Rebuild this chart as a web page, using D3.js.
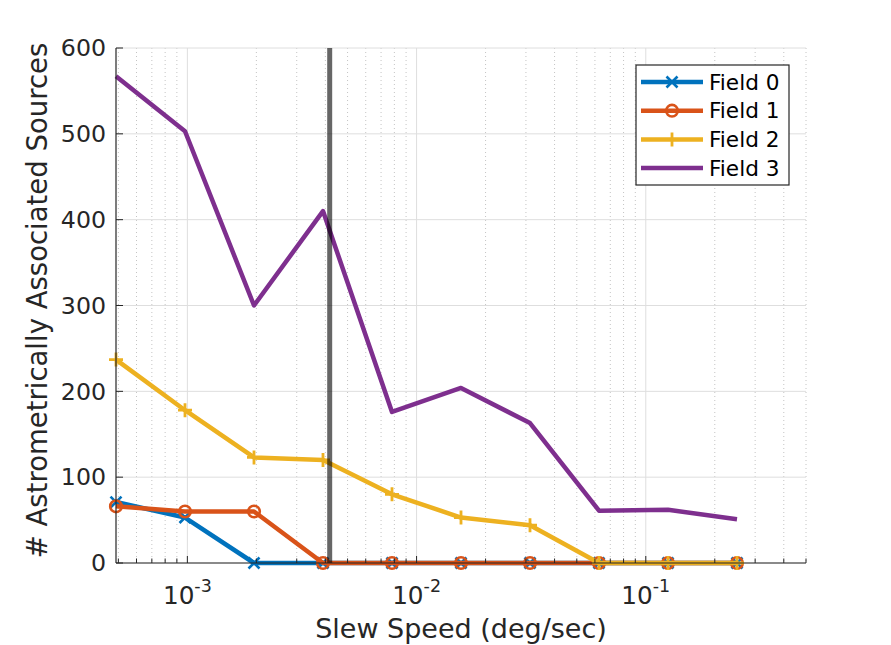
<!DOCTYPE html>
<html>
<head>
<meta charset="utf-8">
<script src="https://cdn.jsdelivr.net/npm/d3@7"></script>
<style>
  body { margin: 0; background: #fff; }
  text { font-family: "DejaVu Sans", sans-serif; fill: #262626; }
</style>
</head>
<body>
<div id="chart"></div>
<script>
// slew speed (deg/sec)
const speeds = [0.00048828125, 0.0009765625, 0.001953125, 0.00390625, 0.0078125,
  0.015625, 0.03125, 0.0625, 0.125, 0.25]

// associated sources per field
const field0 = [71, 53, 0, 0, 0, 0, 0, 0, 0, 0]
const field1 = [66, 60, 60, 0, 0, 0, 0, 0, 0, 0]
const field2 = [237, 178, 123, 120, 80, 53, 44, 0, 0, 0]
const field3 = [567, 503, 300, 410, 176, 204, 163, 61, 62, 51]

const seriesNames = ['Field 0', 'Field 1', 'Field 2', 'Field 3']
const seriesColors = ['#0072BD', '#D95319', '#EDB120', '#7E2F8E']
const seriesMarkers = ['x', 'o', '+', 'none']

const xMajor = [0.001, 0.01, 0.1]
const xMajorExp = ['-3', '-2', '-1']
const xMinor = [0.0005, 0.0006, 0.0007, 0.0008, 0.0009,
  0.002, 0.003, 0.004, 0.005, 0.006, 0.007, 0.008, 0.009,
  0.02, 0.03, 0.04, 0.05, 0.06, 0.07, 0.08, 0.09,
  0.2, 0.3, 0.4, 0.5]
const yTicks = [0, 100, 200, 300, 400, 500, 600]

const siderealRate = 0.004178

const W = 891, H = 645
let margin = { top: 48, right: 85, bottom: 82, left: 116 },
    width = W - margin.left - margin.right,
    height = H - margin.top - margin.bottom

const sx = 'scale(1.03,1)'

let svg = d3.select('#chart').append('svg')
    .attr('width', W)
    .attr('height', H)

let g = svg.append('g')
    .attr('transform', 'translate(' + margin.left + ',' + margin.top + ')')

let x = d3.scaleLog()
    .domain([0.00048828125, 0.5])
    .range([0, width])

let y = d3.scaleLinear()
    .domain([0, 600])
    .range([height, 0])

// grid
g.append('g').selectAll('line')
    .data(xMinor)
    .join('line')
    .attr('x1', d => x(d)).attr('x2', d => x(d))
    .attr('y1', 0).attr('y2', height)
    .attr('stroke', '#c4c4c4')
    .attr('stroke-dasharray', '1,3')

g.append('g').selectAll('line')
    .data(xMajor)
    .join('line')
    .attr('x1', d => x(d)).attr('x2', d => x(d))
    .attr('y1', 0).attr('y2', height)
    .attr('stroke', '#dedede')

g.append('g').selectAll('line')
    .data(yTicks)
    .join('line')
    .attr('x1', 0).attr('x2', width)
    .attr('y1', d => y(d)).attr('y2', d => y(d))
    .attr('stroke', '#dedede')

// series
const allSeries = [field0, field1, field2, field3]
let line = d3.line()
    .x((d, i) => x(speeds[i]))
    .y(d => y(d))

function drawMarker(sel, type, color) {
    if (type === 'x') {
        sel.append('path').attr('d', 'M-5.5,-5.5L5.5,5.5M-5.5,5.5L5.5,-5.5')
            .attr('stroke', color).attr('stroke-width', 2.6).attr('fill', 'none')
    } else if (type === '+') {
        sel.append('path').attr('d', 'M-7,0L7,0M0,-7L0,7')
            .attr('stroke', color).attr('stroke-width', 2.8).attr('fill', 'none')
    } else if (type === 'o') {
        sel.append('circle').attr('r', 5.8)
            .attr('stroke', color).attr('stroke-width', 2.6).attr('fill', 'none')
    }
}

allSeries.forEach((vals, k) => {
    let s = g.append('g')
    s.append('path')
        .datum(vals)
        .attr('d', line)
        .attr('fill', 'none')
        .attr('stroke', seriesColors[k])
        .attr('stroke-width', 4.5)
        .attr('stroke-linejoin', 'round')
    if (seriesMarkers[k] !== 'none') {
        s.selectAll('g.m')
            .data(vals)
            .join('g')
            .attr('class', 'm')
            .attr('transform', (d, i) => 'translate(' + x(speeds[i]) + ',' + y(d) + ')')
            .each(function () { drawMarker(d3.select(this), seriesMarkers[k], seriesColors[k]) })
    }
})

// sidereal rate marker
g.append('line')
    .attr('x1', x(siderealRate)).attr('x2', x(siderealRate))
    .attr('y1', 0).attr('y2', height)
    .attr('stroke', '#000')
    .attr('stroke-opacity', 0.6)
    .attr('stroke-width', 5)

// axes
g.append('line').attr('x1', 0).attr('x2', width).attr('y1', height).attr('y2', height)
    .attr('stroke', '#262626').attr('stroke-width', 1.2)
g.append('line').attr('x1', 0).attr('x2', 0).attr('y1', 0).attr('y2', height)
    .attr('stroke', '#262626').attr('stroke-width', 1.2)

g.append('g').selectAll('line')
    .data(xMinor)
    .join('line')
    .attr('x1', d => x(d)).attr('x2', d => x(d))
    .attr('y1', height).attr('y2', height - 4.5)
    .attr('stroke', '#262626')
g.append('g').selectAll('line')
    .data(xMajor)
    .join('line')
    .attr('x1', d => x(d)).attr('x2', d => x(d))
    .attr('y1', height).attr('y2', height - 7)
    .attr('stroke', '#262626')
g.append('g').selectAll('line')
    .data(yTicks)
    .join('line')
    .attr('x1', 0).attr('x2', 7)
    .attr('y1', d => y(d)).attr('y2', d => y(d))
    .attr('stroke', '#262626')

// tick labels
g.append('g').selectAll('g')
    .data(yTicks)
    .join('g')
    .attr('transform', d => 'translate(-10,' + y(d) + ')')
    .append('text')
    .attr('transform', sx)
    .attr('text-anchor', 'end')
    .attr('dy', '0.36em')
    .attr('font-size', 23)
    .text(d => d)

let xl = g.append('g').selectAll('g')
    .data(xMajor)
    .join('g')
    .attr('transform', d => 'translate(' + x(d) + ',' + (height + 41) + ')')
    .append('text')
    .attr('transform', sx)
    .attr('text-anchor', 'middle')
    .attr('font-size', 24)
xl.append('tspan').text('10')
xl.append('tspan').attr('font-size', 17).attr('dy', -12).text((d, i) => xMajorExp[i])

// axis titles
svg.append('g')
    .attr('transform', 'translate(' + (margin.left + width / 2) + ',638)')
    .append('text')
    .attr('text-anchor', 'middle')
    .attr('font-size', 27)
    .text('Slew Speed (deg/sec)')

svg.append('g')
    .attr('transform', 'translate(47,' + (margin.top + height / 2 - 5) + ')')
    .append('text')
    .attr('transform', 'rotate(-90)')
    .attr('text-anchor', 'middle')
    .attr('font-size', 27.5)
    .text('# Astrometrically Associated Sources')

// legend
let lg = svg.append('g').attr('transform', 'translate(636,65)')
lg.append('rect')
    .attr('width', 153).attr('height', 120)
    .attr('fill', '#fff')
    .attr('stroke', '#262626')
    .attr('stroke-width', 1.2)

seriesNames.forEach((name, k) => {
    let row = lg.append('g').attr('transform', 'translate(0,' + (17 + k * 28.7) + ')')
    row.append('line')
        .attr('x1', 5).attr('x2', 67)
        .attr('stroke', seriesColors[k]).attr('stroke-width', 4.5)
    drawMarker(row.append('g').attr('transform', 'translate(36,0)'), seriesMarkers[k], seriesColors[k])
    row.append('g').attr('transform', 'translate(73,0)')
        .append('text')
        .attr('transform', sx)
        .attr('dy', '0.36em')
        .attr('font-size', 21)
        .style('fill', '#000')
        .text(name)
})
</script>
</body>
</html>
